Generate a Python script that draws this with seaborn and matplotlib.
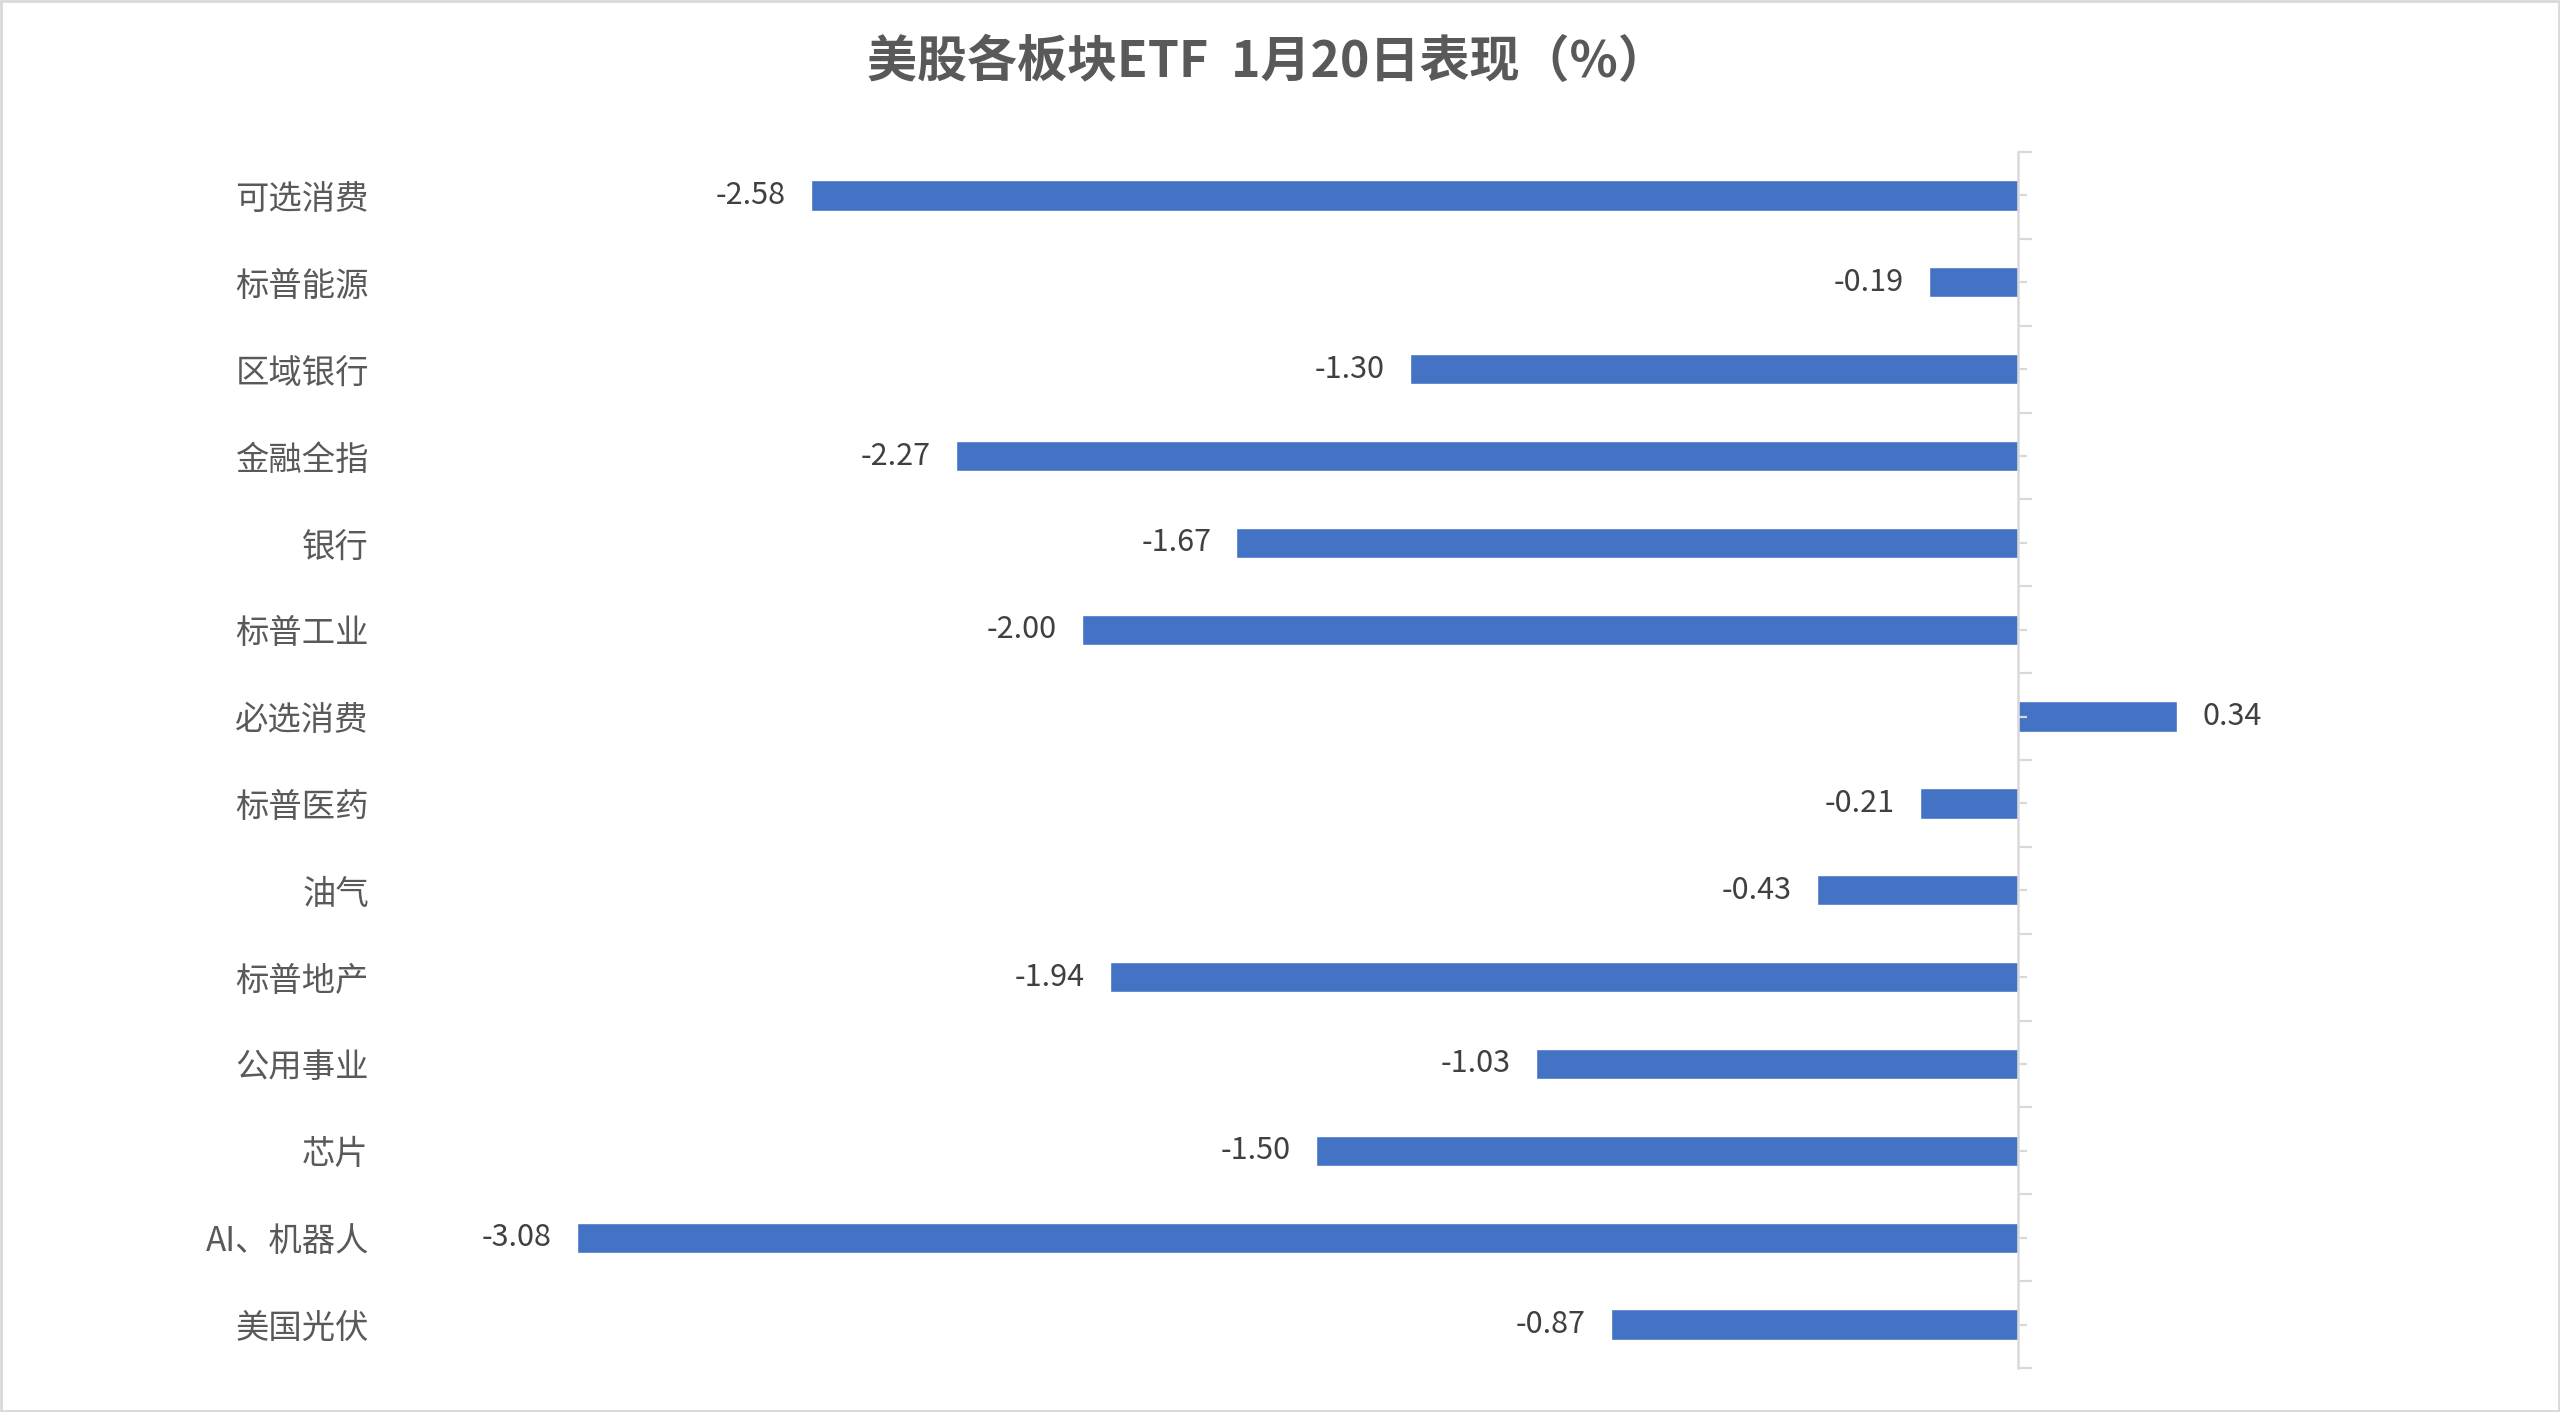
import numpy as np
import matplotlib
matplotlib.use("Agg")
import matplotlib.pyplot as plt
from matplotlib.patches import Rectangle
import seaborn as sns

# Data (top to bottom, as in the chart)
CATEGORIES = ['可选消费', '标普能源', '区域银行', '金融全指', '银行', '标普工业', '必选消费',
              '标普医药', '油气', '标普地产', '公用事业', '芯片', 'AI、机器人', '美国光伏']
VALUES = [-2.58, -0.19, -1.30, -2.27, -1.67, -2.00, 0.34,
          -0.21, -0.43, -1.94, -1.03, -1.50, -3.08, -0.87]
TITLE = '美股各板块ETF  1月20日表现（%）'

# Aesthetics
sns.set_style("white")
plt.rcParams['font.family'] = ['Noto Sans CJK SC', 'DejaVu Sans']

BAR_COLOR = '#4472C4'
AXIS_COLOR = '#D9D9D9'
LABEL_COLOR = '#595959'
VALUE_COLOR = '#404040'

W, H = 2560, 1412
fig = plt.figure(figsize=(W / 100, H / 100), dpi=100)
ax = fig.add_axes([380 / W, 1 - 1368 / H, (2252 - 380) / W, (1368 - 152) / H])

sns.barplot(x=VALUES, y=CATEGORIES, orient='h', color=BAR_COLOR,
            saturation=1, width=0.35, ax=ax)

xmin, xmax = -3.5, 0.5
ax.set_xlim(xmin, xmax)
ax.set_ylim(len(CATEGORIES) - 0.5, -0.5)
ax.set_xticks([])
ax.set_xlabel('')
ax.set_ylabel('')
for s in ax.spines.values():
    s.set_visible(False)
ax.tick_params(axis='y', length=0, pad=8, labelsize=24, labelcolor=LABEL_COLOR)

# value labels
ax.bar_label(ax.containers[0], fmt='%.2f', padding=18, fontsize=22, color=VALUE_COLOR)

# vertical category axis at x = 0
sec = ax.secondary_yaxis((0 - xmin) / (xmax - xmin))
sec.set_zorder(3)
sec.set_yticks(np.arange(-0.5, len(CATEGORIES), 1.0))
sec.set_yticks(np.arange(0, len(CATEGORIES)), minor=True)
sec.tick_params(which='both', labelleft=False, labelright=False,
                color=AXIS_COLOR, width=1.6, direction='out')
sec.tick_params(which='major', length=10)
sec.tick_params(which='minor', length=6.5)
for s in sec.spines.values():
    s.set_color(AXIS_COLOR)
    s.set_linewidth(1.8)

fig.text(0.495, 1 - 62 / H, TITLE, ha='center', va='center',
         fontsize=36, fontweight='bold', color=LABEL_COLOR)

# chart border
fig.add_artist(Rectangle((0.0005, 0.001), 0.999, 0.998, transform=fig.transFigure,
                         fill=False, edgecolor=AXIS_COLOR, linewidth=2))

fig.savefig('out.png', dpi=100)
